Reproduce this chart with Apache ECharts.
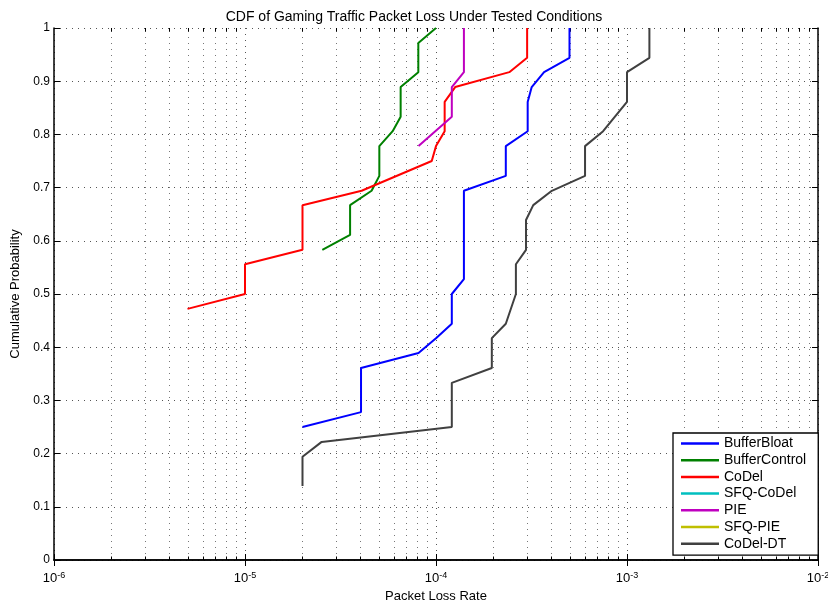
<!DOCTYPE html>
<html>
<head>
<meta charset="utf-8">
<script src="https://cdn.jsdelivr.net/npm/echarts@6/dist/echarts.min.js"></script>
<style>
  html, body { margin: 0; padding: 0; background: #fff; }
  #chart { width: 828px; height: 602px; }
</style>
</head>
<body>
<div id="chart"></div>
<script>
// values (x = packet loss rate, y = cumulative probability)
const bufferBloatX = [2e-5, 4.05e-5, 4.05e-5, 8.1e-5, 1e-4, 1.21e-4, 1.21e-4, 1.4e-4, 1.4e-4, 2.32e-4, 2.32e-4, 3.02e-4, 3.02e-4, 3.17e-4, 3.68e-4, 5e-4, 5e-4]
const bufferBloatY = [0.25, 0.278, 0.361, 0.389, 0.417, 0.444, 0.5, 0.528, 0.694, 0.722, 0.778, 0.806, 0.861, 0.889, 0.917, 0.944, 1.0]

const bufferControlX = [2.54e-5, 3.55e-5, 3.55e-5, 4.6e-5, 5.05e-5, 5.05e-5, 5.93e-5, 6.53e-5, 6.53e-5, 8.08e-5, 8.08e-5, 1e-4]
const bufferControlY = [0.583, 0.611, 0.667, 0.694, 0.722, 0.778, 0.806, 0.833, 0.889, 0.917, 0.972, 1.0]

const codelX = [5e-6, 1e-5, 1e-5, 2e-5, 2e-5, 4.08e-5, 9.5e-5, 1e-4, 1.11e-4, 1.11e-4, 1.26e-4, 2.42e-4, 3e-4, 3e-4]
const codelY = [0.472, 0.5, 0.556, 0.583, 0.667, 0.694, 0.75, 0.778, 0.806, 0.861, 0.889, 0.917, 0.944, 1.0]

const sfqCodelX = []
const sfqCodelY = []

const pieX = [8.1e-5, 1.21e-4, 1.21e-4, 1.4e-4, 1.4e-4]
const pieY = [0.778, 0.833, 0.889, 0.917, 1.0]

const sfqPieX = []
const sfqPieY = []

const codelDtX = [2e-5, 2e-5, 2.52e-5, 1.21e-4, 1.21e-4, 1.96e-4, 1.96e-4, 2.32e-4, 2.62e-4, 2.62e-4, 2.96e-4, 2.96e-4, 3.23e-4, 4.04e-4, 6.03e-4, 6.03e-4, 7.5e-4, 1e-3, 1e-3, 1.31e-3, 1.31e-3]
const codelDtY = [0.139, 0.194, 0.222, 0.25, 0.333, 0.361, 0.417, 0.444, 0.5, 0.556, 0.583, 0.639, 0.667, 0.694, 0.722, 0.778, 0.806, 0.861, 0.917, 0.944, 1.0]

const seriesNames = ['BufferBloat', 'BufferControl', 'CoDel', 'SFQ-CoDel', 'PIE', 'SFQ-PIE', 'CoDel-DT']
const seriesColors = ['#0000ff', '#008000', '#ff0000', '#00bfbf', '#bf00bf', '#bfbf00', '#404040']
const seriesX = [bufferBloatX, bufferControlX, codelX, sfqCodelX, pieX, sfqPieX, codelDtX]
const seriesY = [bufferBloatY, bufferControlY, codelY, sfqCodelY, pieY, sfqPieY, codelDtY]

// log axis: decades + minor positions 2..9
const decades = [1e-6, 1e-5, 1e-4, 1e-3]
const minorMultipliers = [2, 3, 4, 5, 6, 7, 8, 9]
const minorTicks = []
decades.forEach((d) => {
    minorMultipliers.forEach((m) => {
        minorTicks.push([m * d, 0])
    })
})

const font = 'Liberation Sans, Arial, Helvetica, sans-serif'
const dotStyle = { color: '#555', width: 1, type: [1, 5] }

const lineSeries = seriesNames.map((name, i) => {
    return {
        name: name,
        type: 'line',
        xAxisIndex: 0,
        yAxisIndex: 0,
        symbol: 'none',
        z: 3,
        itemStyle: { color: seriesColors[i] },
        lineStyle: { color: seriesColors[i], width: 2 },
        data: seriesX[i].map((x, j) => [x, seriesY[i][j]])
    }
})

const minorGrid = {
    type: 'custom',
    name: 'minor',
    silent: true,
    z: 1,
    xAxisIndex: 0,
    yAxisIndex: 0,
    encode: { x: 0, y: 1 },
    data: minorTicks,
    renderItem: function(params, api) {
        const b = api.coord([api.value(0), 0])
        const t = api.coord([api.value(0), 1])
        const x = Math.round(b[0]) + 0.5
        return {
            type: 'group',
            children: [
                { type: 'line', shape: { x1: x, y1: b[1], x2: x, y2: t[1] }, style: { stroke: '#777', lineWidth: 1, lineDash: [1, 5] } },
                { type: 'line', shape: { x1: x, y1: b[1], x2: x, y2: b[1] - 3.5 }, style: { stroke: '#000', lineWidth: 1 } },
                { type: 'line', shape: { x1: x, y1: t[1], x2: x, y2: t[1] + 3.5 }, style: { stroke: '#000', lineWidth: 1 } }
            ]
        }
    }
}

const chart = echarts.init(document.getElementById('chart'), null, { renderer: 'canvas' })

const option = {
    backgroundColor: '#fff',
    animation: false,
    title: {
        text: 'CDF of Gaming Traffic Packet Loss Under Tested Conditions',
        left: 'center',
        top: 5,
        textStyle: { fontFamily: font, fontSize: 14, fontWeight: 'normal', color: '#000' }
    },
    grid: { left: 54, right: 10, top: 28, bottom: 42, outerBoundsMode: 'none', containLabel: false },
    legend: {
        data: seriesNames,
        orient: 'vertical',
        left: 673,
        top: 433,
        padding: [3, 12, 4, 8],
        itemGap: 1.7,
        itemWidth: 38,
        itemHeight: 2.5,
        icon: 'rect',
        borderColor: '#000',
        borderWidth: 1.3,
        borderRadius: 0,
        backgroundColor: '#fff',
        textStyle: { fontFamily: font, fontSize: 14, lineHeight: 15, color: '#000' }
    },
    xAxis: [
        {
            type: 'log',
            logBase: 10,
            min: 1e-6,
            max: 1e-2,
            position: 'bottom',
            name: 'Packet Loss Rate',
            nameLocation: 'middle',
            nameGap: 25,
            nameTextStyle: { fontFamily: font, fontSize: 13, color: '#000' },
            axisLine: { show: true, lineStyle: { color: '#000', width: 1.5 } },
            axisTick: { show: true, inside: true, length: 6, lineStyle: { color: '#000', width: 1 } },
            splitLine: { show: true, lineStyle: dotStyle },
            axisLabel: {
                show: true,
                margin: 11,
                showMinLabel: true,
                showMaxLabel: true,
                formatter: function(v) {
                    const e = Math.round(Math.log10(v))
                    return '{b|10}{s|' + e + '}'
                },
                rich: {
                    b: { fontFamily: font, fontSize: 13, lineHeight: 14, padding: [5, 0, 0, 0], verticalAlign: 'bottom', color: '#000' },
                    s: { fontFamily: font, fontSize: 9, lineHeight: 9, verticalAlign: 'top', color: '#000' }
                }
            }
        },
        {
            type: 'log',
            logBase: 10,
            min: 1e-6,
            max: 1e-2,
            position: 'top',
            axisLine: { show: true, lineStyle: { color: '#000', width: 1.5 } },
            axisTick: { show: true, inside: true, length: 6, lineStyle: { color: '#000', width: 1 } },
            splitLine: { show: false },
            axisLabel: { show: false }
        }
    ],
    yAxis: [
        {
            type: 'value',
            min: 0,
            max: 1,
            interval: 0.1,
            position: 'left',
            name: 'Cumulative Probability',
            nameLocation: 'middle',
            nameGap: 26,
            nameTextStyle: { fontFamily: font, fontSize: 13, color: '#000' },
            axisLine: { show: true, lineStyle: { color: '#000', width: 1.5 } },
            axisTick: { show: true, inside: true, length: 6, lineStyle: { color: '#000', width: 1 } },
            splitLine: { show: true, lineStyle: dotStyle },
            axisLabel: {
                margin: 4,
                fontFamily: font,
                fontSize: 12,
                color: '#000',
                formatter: function(v) {
                    return String(Number(v.toFixed(1)))
                }
            }
        },
        {
            type: 'value',
            min: 0,
            max: 1,
            interval: 0.1,
            position: 'right',
            axisLine: { show: true, lineStyle: { color: '#000', width: 1.5 } },
            axisTick: { show: true, inside: true, length: 6, lineStyle: { color: '#000', width: 1 } },
            splitLine: { show: false },
            axisLabel: { show: false }
        }
    ],
    series: [minorGrid].concat(lineSeries)
}

chart.setOption(option)
</script>
</body>
</html>
